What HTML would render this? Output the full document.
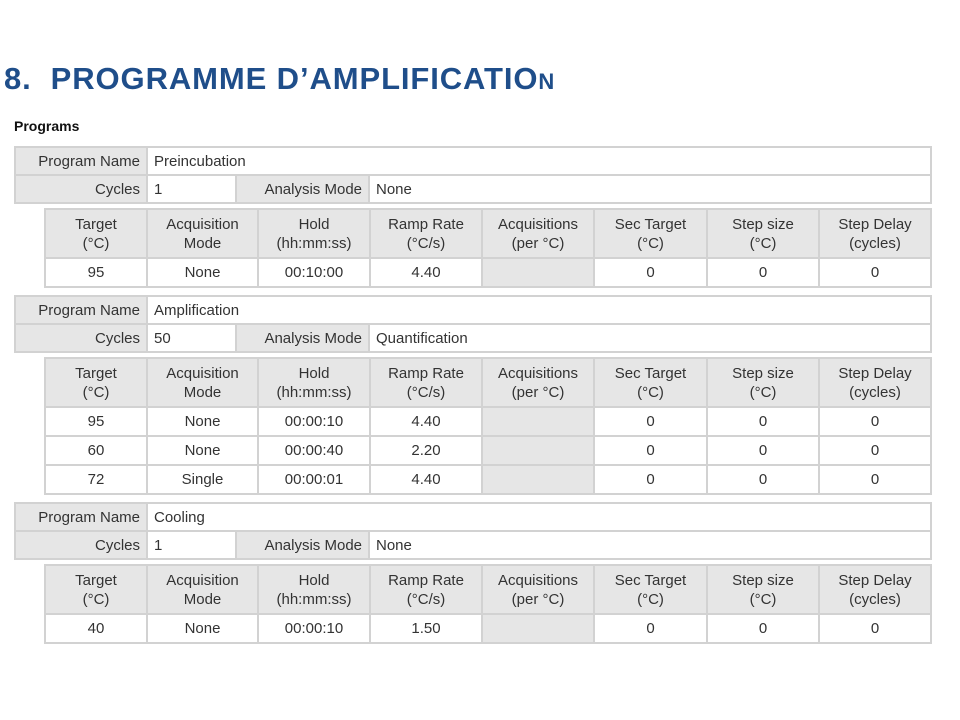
<!DOCTYPE html>
<html><head><meta charset="utf-8"><style>
body{margin:0;width:960px;height:720px;background:#fff;position:relative;overflow:hidden;font-family:"Liberation Sans",Arial,sans-serif;}
h1{position:absolute;left:4px;top:61px;margin:0;font-size:31px;font-weight:bold;color:#1f4e8a;letter-spacing:0.9px;white-space:nowrap}
h1 small{font-size:22px}
.pg{position:absolute;left:14px;top:118px;font-size:14px;font-weight:bold;color:#111}
table{position:absolute;border-collapse:collapse;table-layout:fixed;font-size:15px;color:#333}
td{border:2px solid #d2d2d2;padding:0 6px;white-space:nowrap;overflow:hidden;line-height:19px}
.g{background:#e6e6e6}
.r{text-align:right}
.p td{height:26px}
.s td{text-align:center;height:27px}
.s tr.h td{height:47px;background:#e6e6e6}
</style></head><body>
<h1>8.&nbsp;&nbsp;PROGRAMME D’AMPLIFICATIO<small>N</small></h1>
<div class="pg">Programs</div>

<table class="p" style="left:14px;top:146px;width:916px">
<colgroup><col style="width:132px"><col style="width:89px"><col style="width:133px"><col style="width:562px"></colgroup>
<tr><td class="g r">Program Name</td><td colspan="3">Preincubation</td></tr>
<tr><td class="g r">Cycles</td><td>1</td><td class="g r">Analysis Mode</td><td>None</td></tr>
</table>
<table class="s" style="left:44px;top:208px;width:886px">
<colgroup><col style="width:102px"><col style="width:111px"><col style="width:112px"><col style="width:112px"><col style="width:112px"><col style="width:113px"><col style="width:112px"><col style="width:112px"></colgroup>
<tr class="h"><td>Target<br>(°C)</td><td>Acquisition<br>Mode</td><td>Hold<br>(hh:mm:ss)</td><td>Ramp Rate<br>(°C/s)</td><td>Acquisitions<br>(per °C)</td><td>Sec Target<br>(°C)</td><td>Step size<br>(°C)</td><td>Step Delay<br>(cycles)</td></tr>
<tr><td>95</td><td>None</td><td>00:10:00</td><td>4.40</td><td class="g"></td><td>0</td><td>0</td><td>0</td></tr>
</table>

<table class="p" style="left:14px;top:295px;width:916px">
<colgroup><col style="width:132px"><col style="width:89px"><col style="width:133px"><col style="width:562px"></colgroup>
<tr><td class="g r">Program Name</td><td colspan="3">Amplification</td></tr>
<tr><td class="g r">Cycles</td><td>50</td><td class="g r">Analysis Mode</td><td>Quantification</td></tr>
</table>
<table class="s" style="left:44px;top:357px;width:886px">
<colgroup><col style="width:102px"><col style="width:111px"><col style="width:112px"><col style="width:112px"><col style="width:112px"><col style="width:113px"><col style="width:112px"><col style="width:112px"></colgroup>
<tr class="h"><td>Target<br>(°C)</td><td>Acquisition<br>Mode</td><td>Hold<br>(hh:mm:ss)</td><td>Ramp Rate<br>(°C/s)</td><td>Acquisitions<br>(per °C)</td><td>Sec Target<br>(°C)</td><td>Step size<br>(°C)</td><td>Step Delay<br>(cycles)</td></tr>
<tr><td>95</td><td>None</td><td>00:00:10</td><td>4.40</td><td class="g"></td><td>0</td><td>0</td><td>0</td></tr>
<tr><td>60</td><td>None</td><td>00:00:40</td><td>2.20</td><td class="g"></td><td>0</td><td>0</td><td>0</td></tr>
<tr><td>72</td><td>Single</td><td>00:00:01</td><td>4.40</td><td class="g"></td><td>0</td><td>0</td><td>0</td></tr>
</table>

<table class="p" style="left:14px;top:502px;width:916px">
<colgroup><col style="width:132px"><col style="width:89px"><col style="width:133px"><col style="width:562px"></colgroup>
<tr><td class="g r">Program Name</td><td colspan="3">Cooling</td></tr>
<tr><td class="g r">Cycles</td><td>1</td><td class="g r">Analysis Mode</td><td>None</td></tr>
</table>
<table class="s" style="left:44px;top:564px;width:886px">
<colgroup><col style="width:102px"><col style="width:111px"><col style="width:112px"><col style="width:112px"><col style="width:112px"><col style="width:113px"><col style="width:112px"><col style="width:112px"></colgroup>
<tr class="h"><td>Target<br>(°C)</td><td>Acquisition<br>Mode</td><td>Hold<br>(hh:mm:ss)</td><td>Ramp Rate<br>(°C/s)</td><td>Acquisitions<br>(per °C)</td><td>Sec Target<br>(°C)</td><td>Step size<br>(°C)</td><td>Step Delay<br>(cycles)</td></tr>
<tr><td>40</td><td>None</td><td>00:00:10</td><td>1.50</td><td class="g"></td><td>0</td><td>0</td><td>0</td></tr>
</table>
</body></html>
